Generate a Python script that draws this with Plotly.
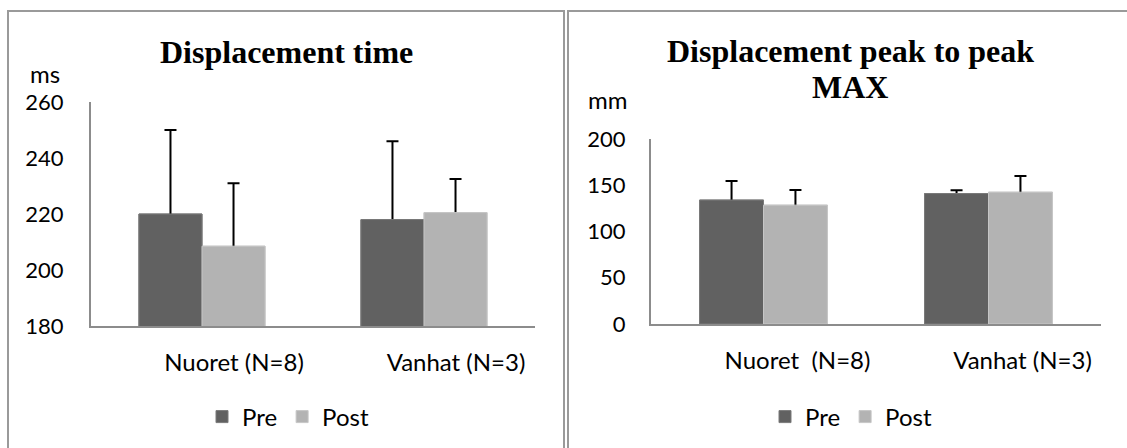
import plotly.graph_objects as go

# Group labels and measured means / upper error (SD) per series
groups_time = ["Nuoret (N=8)", "Vanhat (N=3)"]
time_pre = [220, 218]
time_pre_err = [30, 28]
time_post = [208.5, 220.5]
time_post_err = [22.5, 12]

groups_p2p = ["Nuoret  (N=8)", "Vanhat (N=3)"]
p2p_pre = [134, 141]
p2p_pre_err = [20.5, 3.5]
p2p_post = [128.5, 142.5]
p2p_post_err = [16.5, 17.5]

time_ticks = [180, 200, 220, 240, 260]
p2p_ticks = [0, 50, 100, 150, 200]

PRE_COLOR = "#616161"
POST_COLOR = "#b3b3b3"
PRE_EDGE = "#7a7a7a"
POST_EDGE = "#c6c6c6"
W, H = 1127, 448
SANS = "Lato, Carlito, Calibri, sans-serif"
TICK_FONT = dict(family=SANS, size=22, color="#000000")
LABEL_FONT = dict(family=SANS, size=24, color="#000000")
TITLE_FONT = dict(family="Liberation Serif, Times New Roman, serif", size=32, color="#000000")


def px(x):
    return x / W


def py(y):
    return (H - y) / H


def err(values):
    # symmetric whiskers; the lower half is hidden under the bars drawn on the overlay axes
    return dict(type="data", array=values, symmetric=True, color="#000000", thickness=2, width=6)


def bar(x, y, name, color, edge, xa, ya, legend=None, error=None):
    return go.Bar(x=x, y=y, name=name, marker=dict(color=color, line=dict(color=edge, width=1)),
                  error_y=error, xaxis=xa, yaxis=ya, legend=legend or "legend",
                  showlegend=legend is not None, hoverinfo="skip")


fig = go.Figure()

# Bars with whiskers on the base axes
fig.add_trace(bar(groups_time, time_pre, "Pre", PRE_COLOR, PRE_EDGE, "x", "y", "legend", err(time_pre_err)))
fig.add_trace(bar(groups_time, time_post, "Post", POST_COLOR, POST_EDGE, "x", "y", "legend", err(time_post_err)))
fig.add_trace(bar(groups_p2p, p2p_pre, "Pre", PRE_COLOR, PRE_EDGE, "x2", "y2", "legend2", err(p2p_pre_err)))
fig.add_trace(bar(groups_p2p, p2p_post, "Post", POST_COLOR, POST_EDGE, "x2", "y2", "legend2", err(p2p_post_err)))

# Same bars on overlaying axes, covering the lower half of each whisker
fig.add_trace(bar(groups_time, time_pre, "Pre", PRE_COLOR, PRE_EDGE, "x3", "y3"))
fig.add_trace(bar(groups_time, time_post, "Post", POST_COLOR, POST_EDGE, "x3", "y3"))
fig.add_trace(bar(groups_p2p, p2p_pre, "Pre", PRE_COLOR, PRE_EDGE, "x4", "y4"))
fig.add_trace(bar(groups_p2p, p2p_post, "Post", POST_COLOR, POST_EDGE, "x4", "y4"))

axis_line = dict(showline=True, linecolor="#8c8c8c", linewidth=2, showgrid=False, zeroline=False,
                 ticks="", fixedrange=True, automargin=False)
hidden = dict(visible=False, showgrid=False, zeroline=False, fixedrange=True, automargin=False)

legend_common = dict(orientation="h", xanchor="center", yanchor="middle", font=LABEL_FONT,
                     bgcolor="rgba(0,0,0,0)", itemwidth=30, tracegroupgap=0, borderwidth=0)

fig.update_layout(
    template="none",
    width=W, height=H,
    margin=dict(l=0, r=0, t=0, b=0, pad=0, autoexpand=False),
    paper_bgcolor="#ffffff", plot_bgcolor="#ffffff",
    barmode="group", bargap=0.432, bargroupgap=0,
    xaxis=dict(domain=[px(91), px(535)], anchor="y", range=[-0.5, 1.5], tickfont=LABEL_FONT,
               ticklabelshift=32, ticklabelstandoff=14, **axis_line),
    yaxis=dict(domain=[py(326), py(102)], anchor="x", range=[180, 260], tickvals=time_ticks,
               tickfont=TICK_FONT, ticklabelstandoff=21, **axis_line),
    xaxis2=dict(domain=[px(651), px(1101)], anchor="y2", range=[-0.5, 1.5], tickfont=LABEL_FONT,
                ticklabelshift=34, ticklabelstandoff=14, **axis_line),
    yaxis2=dict(domain=[py(324), py(139)], anchor="x2", range=[0, 200], tickvals=p2p_ticks,
                tickfont=TICK_FONT, ticklabelstandoff=19, **axis_line),
    xaxis3=dict(overlaying="x", anchor="y3", range=[-0.5, 1.5], **hidden),
    yaxis3=dict(overlaying="y", anchor="x3", range=[180, 260], **hidden),
    xaxis4=dict(overlaying="x2", anchor="y4", range=[-0.5, 1.5], **hidden),
    yaxis4=dict(overlaying="y2", anchor="x4", range=[0, 200], **hidden),
    legend=dict(x=px(288), y=py(417), **legend_common),
    legend2=dict(x=px(851), y=py(417), **legend_common),
    showlegend=True,
)

# Panel frames
frame = dict(type="rect", xref="paper", yref="paper", line=dict(color="#9a9a9a", width=2),
             fillcolor="rgba(0,0,0,0)", layer="below")
fig.add_shape(x0=px(8), x1=px(564), y0=-0.05, y1=py(11), **frame)
fig.add_shape(x0=px(568), x1=1.05, y0=-0.05, y1=py(11), **frame)

# Chart titles and unit labels
note = dict(xref="paper", yref="paper", showarrow=False, xanchor="center", yanchor="middle")
fig.add_annotation(text="<b>Displacement time</b>", x=px(286), y=py(52), font=TITLE_FONT, **note)
fig.add_annotation(text="<b>Displacement peak to peak</b>", x=px(850), y=py(51), font=TITLE_FONT, **note)
fig.add_annotation(text="<b>MAX</b>", x=px(850), y=py(87), font=TITLE_FONT, **note)
fig.add_annotation(text="ms", x=px(45), y=py(74), font=LABEL_FONT, **note)
fig.add_annotation(text="mm", x=px(607), y=py(99), font=LABEL_FONT, **note)

fig.write_html("out.html")
